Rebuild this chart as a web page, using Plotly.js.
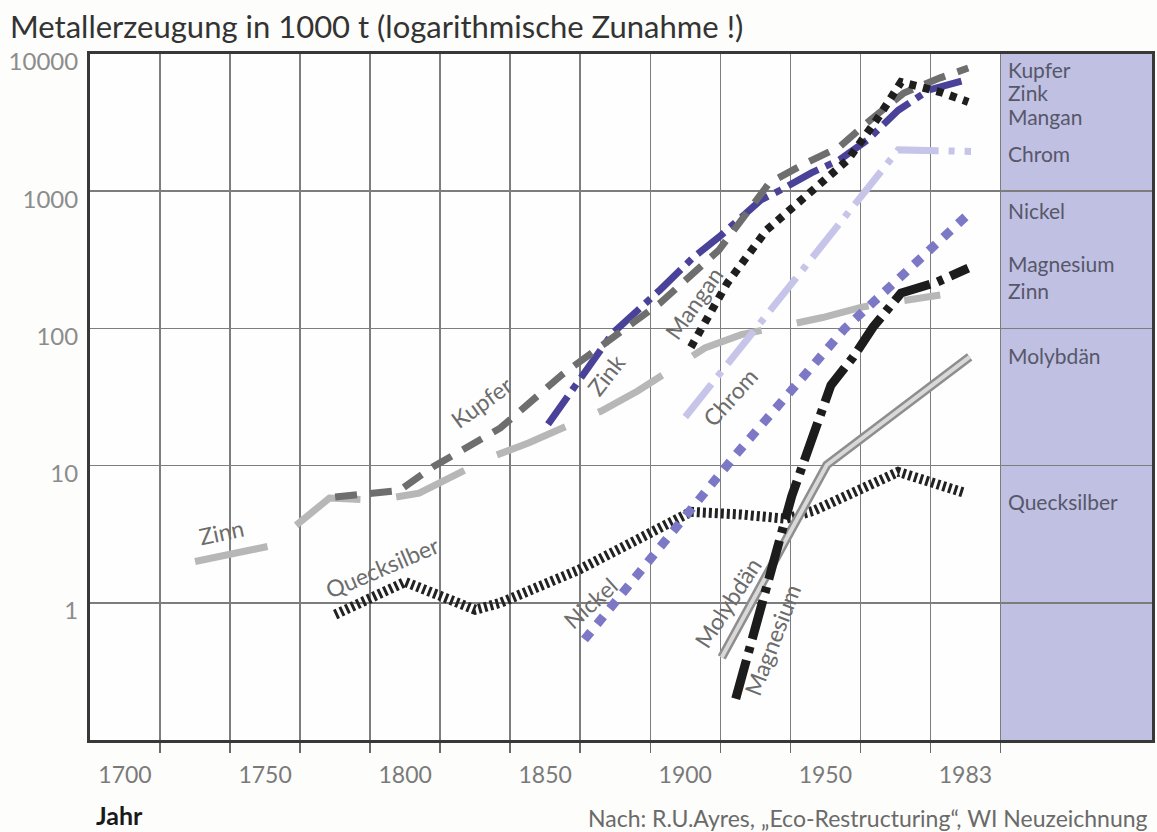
<!DOCTYPE html>
<html><head><meta charset="utf-8">
<script src="https://cdn.plot.ly/plotly-3.0.1.min.js"></script>
<style>html,body{margin:0;padding:0;background:#fdfdfb}#chart{width:1157px;height:832px}</style>
</head><body><div id="chart"></div>
<script>
// x positions are read in the chart's own (drawn) year scale; the last label "1983" sits at the 2000 position
const tickYears = [1700, 1750, 1800, 1850, 1900, 1950, 2000];
const tickLabels = ["1700", "1750", "1800", "1850", "1900", "1950", "1983"];
const gridYears = [1712.5, 1737.5, 1762.5, 1787.5, 1812.5, 1837.5, 1862.5, 1887.5, 1912.5, 1937.5, 1962.5, 1987.5, 2012.5];
const yTicks = [1, 10, 100, 1000, 10000];
const yTickLabels = ["1", "10", "100", "1000", "10000"];

const zinnYears = [1725, 1752, 1773, 1790, 1805, 1830, 1844, 1870, 1883, 1907, 1920, 1949, 1963, 1991];
const zinnValues = [2.0, 2.6, 5.8, 5.6, 6.3, 11.4, 14.6, 25, 35, 72, 90, 120, 143, 175];

const kupferYears = [1775, 1798, 1810, 1834, 1856, 1868, 1891, 1912, 1930, 1943, 1955, 1966, 1978, 1991, 2001];
const kupferValues = [5.9, 6.6, 9.8, 18.8, 46, 70, 153, 372, 1150, 1600, 2100, 3300, 5200, 6700, 7900];

const zinkYears = [1851, 1874, 1891, 1903, 1912, 1927, 1934, 1945, 1955, 1965, 1976, 1987, 2000];
const zinkValues = [20, 92, 191, 331, 463, 863, 1020, 1360, 1690, 2360, 3890, 5470, 6460];

const manganYears = [1902, 1915, 1929, 1943, 1958, 1969, 1977, 1984, 1992, 2001];
const manganValues = [73, 214, 521, 908, 1690, 3470, 6250, 5750, 5200, 4470];

const chromYears = [1900, 1976, 2002];
const chromValues = [22.6, 2000, 1950];

const nickelYears = [1864, 1918, 1957, 2000];
const nickelValues = [0.54, 12, 100, 650];

const magnesiumYears = [1918, 1938, 1952, 1960, 1967, 1977, 1990, 2001];
const magnesiumValues = [0.2, 6.0, 38.6, 62, 102, 181, 218, 275];

const molybdaenYears = [1913, 1950.5, 2001.5];
const molybdaenValues = [0.4, 10.1, 62];

const quecksilberYears = [1775, 1800, 1825, 1834, 1862, 1902, 1920, 1936, 1946, 1976, 2000];
const quecksilberValues = [0.82, 1.42, 0.89, 1.0, 1.74, 4.6, 4.4, 4.1, 4.7, 9.0, 6.3];

// inline rotated labels: [text, year, log10(value), angle]
const inlineLabels = [
  ["Zinn", 1734.5, 0.516, -12],
  ["Quecksilber", 1792, 0.261, -23],
  ["Kupfer", 1827.3, 1.464, -36],
  ["Zink", 1871.6, 1.66, -52],
  ["Mangan", 1903, 2.185, -55],
  ["Chrom", 1916, 1.5, -48],
  ["Nickel", 1866, 0.0, -42],
  ["Molybdän", 1915, 0.0, -57],
  ["Magnesium", 1931, -0.271, -69]
];
// right-hand legend labels: [text, log10 position]
const sideLabels = [
  ["Kupfer", 3.885], ["Zink", 3.716], ["Mangan", 3.545], ["Chrom", 3.278],
  ["Nickel", 2.863], ["Magnesium", 2.47], ["Zinn", 2.275], ["Molybdän", 1.806],
  ["Quecksilber", 0.735]
];

function tr(x, y, color, width, dash) {
  return {x: x, y: y, type: 'scatter', mode: 'lines', hoverinfo: 'skip', showlegend: false,
    line: {color: color, width: width, dash: dash}};
}

const traces = [
  tr(zinnYears, zinnValues, '#b7b7b7', 7, '74px,36px'),
  tr(quecksilberYears, quecksilberValues, '#222222', 10, '3px,3px'),
  tr(molybdaenYears, molybdaenValues, '#8e8e8e', 9, 'solid'),
  tr(molybdaenYears, molybdaenValues, '#d9d9d9', 4, 'solid'),
  tr(nickelYears, nickelValues, '#7c78c6', 9, '10px,10px'),
  tr(chromYears, chromValues, '#c6c4e8', 7, '42px,10px,6px,10px'),
  tr(magnesiumYears, magnesiumValues, '#1c1c1c', 9, '40px,8px,6px,8px'),
  tr(zinkYears, zinkValues, '#4a4299', 7, '34px,8px,7px,8px'),
  tr(kupferYears, kupferValues, '#6e6e6e', 7, '22px,13px'),
  tr(manganYears, manganValues, '#1e1e1e', 8, '7px,7px')
];

const annotations = [];
inlineLabels.forEach(l => annotations.push({
  text: l[0], x: l[1], y: l[2], xref: 'x', yref: 'y', textangle: l[3], showarrow: false,
  font: {family: 'Lato, sans-serif', size: 23, color: '#6c6c6c'}
}));
sideLabels.forEach(l => annotations.push({
  text: l[0], x: 2014.5, y: l[1], xref: 'x', yref: 'y', xanchor: 'left', yanchor: 'middle', showarrow: false,
  font: {family: 'Lato, sans-serif', size: 21, color: '#57576a'}
}));
annotations.push({text: '<b>Jahr</b>', xref: 'paper', yref: 'paper', x: 0.004, y: -0.109, xanchor: 'left', yanchor: 'middle',
  showarrow: false, font: {family: 'Lato, sans-serif', size: 25, color: '#1a1a1a'}});
annotations.push({text: 'Nach: R.U.Ayres, „Eco-Restructuring“, WI Neuzeichnung', xref: 'paper', yref: 'paper', x: 0.998, y: -0.114,
  xanchor: 'right', yanchor: 'middle', showarrow: false, font: {family: 'Lato, sans-serif', size: 23, color: '#6a6a6a'}});

const layout = {
  width: 1157, height: 832,
  margin: {l: 90, r: 5, t: 54, b: 92},
  paper_bgcolor: '#fdfdfb', plot_bgcolor: '#fefefe',
  title: {text: 'Metallerzeugung in 1000 t (logarithmische Zunahme !)', x: 10/1157, xanchor: 'left',
    y: 1 - 27/832, yanchor: 'middle', yref: 'container', xref: 'container',
    font: {family: 'Lato, sans-serif', size: 31, color: '#333'}},
  xaxis: {
    range: [1687.5, 2066.6], tickmode: 'array', tickvals: tickYears, ticktext: tickLabels,
    showgrid: false, ticks: '', zeroline: false, ticklabelstandoff: 12,
    tickfont: {family: 'Lato, sans-serif', size: 23, color: '#7a7a7a'},
    showline: true, mirror: true, linecolor: '#383838', linewidth: 3,
    minor: {tickmode: 'array', tickvals: gridYears, ticks: 'outside', ticklen: 10, tickwidth: 1.5, tickcolor: '#6a6a6a',
      showgrid: true, gridcolor: '#7d7d7d', gridwidth: 1.5}
  },
  yaxis: {
    type: 'log', range: [-1, 4], tickmode: 'array', tickvals: yTicks, ticktext: yTickLabels,
    showgrid: true, gridcolor: '#7d7d7d', gridwidth: 1.5, ticks: '', zeroline: false,
    ticklabelstandoff: 4, ticklabelshift: 8,
    tickfont: {family: 'Lato, sans-serif', size: 24, color: '#8c8c8c'},
    showline: true, mirror: true, linecolor: '#383838', linewidth: 3
  },
  shapes: [{type: 'rect', xref: 'x', yref: 'paper', x0: 2012.5, x1: 2066.6, y0: 0, y1: 1,
    fillcolor: '#bfc0e2', line: {width: 0}, layer: 'between'}],
  annotations: annotations
};

Plotly.newPlot('chart', traces, layout, {displayModeBar: false, staticPlot: true});
</script>
</body></html>
